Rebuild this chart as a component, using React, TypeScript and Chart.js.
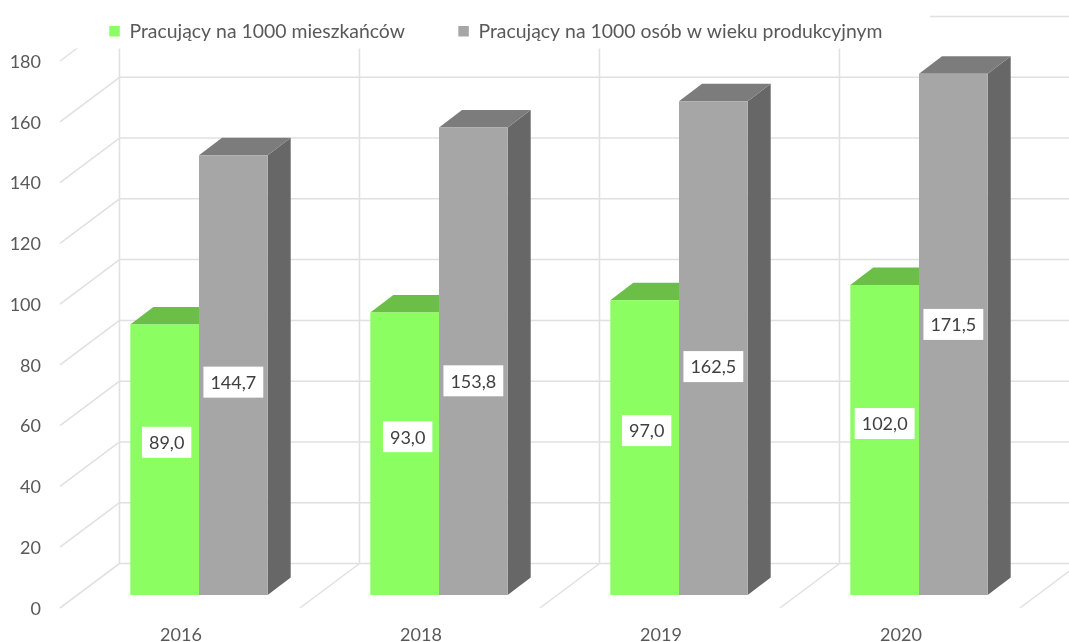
import React, { useEffect, useRef } from "react";
import { Chart, registerables } from "chart.js";

Chart.register(...registerables);

const categories = ["2016", "2018", "2019", "2020"];
const residents = [89.0, 93.0, 97.0, 102.0];
const workingAge = [144.7, 153.8, 162.5, 171.5];
const seriesNames = ["Pracujący na 1000 mieszkańców", "Pracujący na 1000 osób w wieku produkcyjnym"];
const yTicksMax = 180;
const yTicksStep = 20;

// label placement relative to the middle of each bar (manual placement in the reference)
const labelNudgeY = [
  [-17.5, -17, -17, -16.5],
  [7, 19.5, 18.5, -10],
];
const labelNudgeX = [
  [2, 3, 2, 0],
  [0, 0, 0, 0],
];

const FONT = "Lato, 'Open Sans', sans-serif";
const TEXT = "#595959";
const GRID = "#e0e0e0";
const DEPTH_X = 23;
const DEPTH_Y = 17.5;
const WALL_DY = -31.5;
const WALL_X = 119.5;
const SIDE_X = 60;
const SIDE_DY = 13;
const LEGEND_GAP = 53.4;
const faces = [
  { top: "#6bbf47", side: "#5a9e3c" },
  { top: "#7c7c7c", side: "#676767" },
];

const fmt = (v: number) => v.toFixed(1).replace(".", ",");

const gridPlugin = {
  id: "wallGrid",
  beforeDraw(chart: any) {
    const { ctx, scales } = chart;
    const y = scales.y;
    const x = scales.x;
    const W = chart.width;
    ctx.save();
    ctx.strokeStyle = GRID;
    ctx.lineWidth = 1.5;
    const line = (a: number, b: number, c: number, d: number) => {
      ctx.beginPath();
      ctx.moveTo(a, b);
      ctx.lineTo(c, d);
      ctx.stroke();
    };
    const backBottom = y.getPixelForValue(0) + WALL_DY;
    const backTop = y.getPixelForValue(yTicksMax) + WALL_DY;
    y.ticks.forEach((t: any) => {
      const p = y.getPixelForValue(t.value);
      line(WALL_X, p + WALL_DY, W, p + WALL_DY);
      line(SIDE_X, p + SIDE_DY, WALL_X, p + WALL_DY);
    });
    const step = x.getPixelForValue(1) - x.getPixelForValue(0);
    const shift = x.getPixelForValue(0) - WALL_X;
    for (let i = 0; i <= categories.length; i++) {
      const vx = x.getPixelForValue(0) + i * step - shift;
      line(vx, backTop, vx, backBottom);
      line(vx, backBottom, vx - (WALL_X - SIDE_X), backBottom - WALL_DY + SIDE_DY);
    }
    // white legend backdrop hides the upper part of the wall
    ctx.fillStyle = "#ffffff";
    ctx.fillRect(0, 0, 930, 48.5);
    ctx.restore();
  },
};

const depthPlugin = {
  id: "barDepth",
  beforeDatasetsDraw(chart: any) {
    const { ctx } = chart;
    ctx.save();
    chart.data.datasets.forEach((_: any, di: number) => {
      chart.getDatasetMeta(di).data.forEach((bar: any) => {
        const l = bar.x - bar.width / 2;
        const r = bar.x + bar.width / 2;
        const t = bar.y;
        const b = bar.base;
        ctx.fillStyle = faces[di].side;
        ctx.beginPath();
        ctx.moveTo(r, t);
        ctx.lineTo(r + DEPTH_X, t - DEPTH_Y);
        ctx.lineTo(r + DEPTH_X, b - DEPTH_Y);
        ctx.lineTo(r, b);
        ctx.closePath();
        ctx.fill();
        ctx.fillStyle = faces[di].top;
        ctx.beginPath();
        ctx.moveTo(l, t);
        ctx.lineTo(l + DEPTH_X, t - DEPTH_Y);
        ctx.lineTo(r + DEPTH_X, t - DEPTH_Y);
        ctx.lineTo(r, t);
        ctx.closePath();
        ctx.fill();
      });
    });
    ctx.restore();
  },
};

const labelPlugin = {
  id: "boxLabels",
  afterDatasetsDraw(chart: any) {
    const { ctx } = chart;
    ctx.save();
    ctx.font = `18px ${FONT}`;
    ctx.textAlign = "center";
    ctx.textBaseline = "middle";
    chart.data.datasets.forEach((ds: any, di: number) => {
      chart.getDatasetMeta(di).data.forEach((bar: any, i: number) => {
        const text = fmt(ds.data[i]);
        const cx = bar.x + labelNudgeX[di][i];
        const cy = (bar.y + bar.base) / 2 + labelNudgeY[di][i];
        const w = ctx.measureText(text).width + 14;
        ctx.fillStyle = "#ffffff";
        ctx.fillRect(cx - w / 2, cy - 15.5, w, 31);
        ctx.fillStyle = "#404040";
        ctx.fillText(text, cx, cy + 1);
      });
    });
    ctx.restore();
  },
};

const legendShiftPlugin = {
  id: "legendShift",
  afterLayout(chart: any) {
    const lg = chart.legend;
    if (!lg) return;
    lg.left -= 23.6;
    lg.right -= 23.6;
    // the wide item gap also sets the row's top offset; lift the box so the row stays in place
    lg.top += 2 - (LEGEND_GAP - 8);
  },
};

export default function App() {
  const ref = useRef<HTMLCanvasElement>(null);
  useEffect(() => {
    const chart = new Chart(ref.current as HTMLCanvasElement, {
      type: "bar",
      data: {
        labels: categories,
        datasets: [
          { label: seriesNames[0], data: residents, backgroundColor: "#8bff62" },
          { label: seriesNames[1], data: workingAge, backgroundColor: "#a6a6a6" },
        ],
      },
      plugins: [gridPlugin, depthPlugin, labelPlugin, legendShiftPlugin],
      options: {
        responsive: false,
        animation: false,
        layout: { padding: { top: 11.6, right: 30, left: 0, bottom: 0 } },
        datasets: { bar: { barPercentage: 1, categoryPercentage: 0.5725 } },
        plugins: {
          tooltip: { enabled: false },
          legend: {
            position: "top",
            maxHeight: 36.4,
            labels: {
              boxWidth: 10.5,
              boxHeight: 10.5,
              padding: LEGEND_GAP,
              color: TEXT,
              font: { family: FONT, size: 19.4 },
            },
          },
        },
        scales: {
          x: {
            grid: { display: false },
            border: { display: false },
            afterFit(s: any) {
              s.height = 47;
            },
            ticks: {
              color: TEXT,
              font: { family: FONT, size: 18 },
              padding: 21,
              labelOffset: -18,
              maxRotation: 0,
              autoSkip: false,
            },
          },
          y: {
            min: 0,
            max: yTicksMax,
            grid: { display: false },
            border: { display: false },
            afterFit(s: any) {
              s.width = 79;
            },
            ticks: {
              stepSize: yTicksStep,
              color: TEXT,
              font: { family: FONT, size: 18 },
              padding: 30,
              labelOffset: 14,
            },
          },
        },
      },
    } as any);
    return () => chart.destroy();
  }, []);
  return (
    <div style={{ position: "absolute", left: 0, top: 0, width: 1069, height: 642, background: "#fff" }}>
      <canvas ref={ref} width={1069} height={642} style={{ display: "block" }} />
    </div>
  );
}
